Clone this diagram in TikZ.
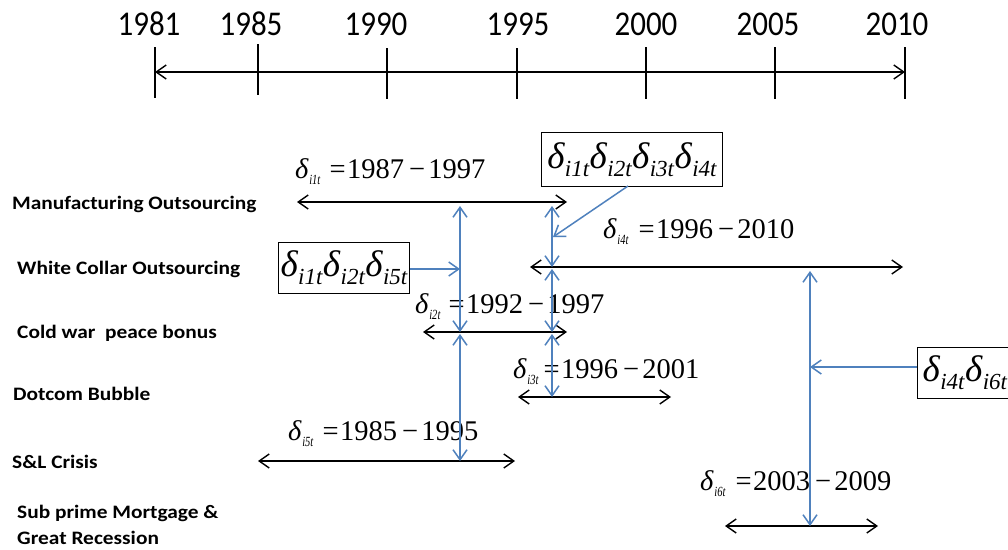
\documentclass[tikz,border=0pt]{standalone}
\usepackage{fontspec}
\setmainfont{Liberation Serif}
\newfontfamily\carl{Carlito}
\usetikzlibrary{arrows.meta}
\definecolor{offblue}{RGB}{79,129,189}
\newcommand\eqd[1]{\textit{δ}\kern0.5pt\raisebox{-6pt}{\fontsize{14}{14}\selectfont\scalebox{0.75}[1]{\textit{#1}}}}
\newcommand\eqline[4]{\eqd{#1}\hspace{#2}=\hspace{1.5pt}#3\hspace{5pt}−\hspace{3pt}#4}
\newcommand\bxd[1]{\textit{δ}\raisebox{-8pt}{\fontsize{23}{23}\selectfont\textit{#1}}}
\newcommand\rl[1]{\scalebox{1.125}[1]{#1}}
\tikzset{
  mytip/.tip={Straight Barb[length=10pt,width=14pt]},
  blk/.style={draw=black,line width=1.4pt,mytip-mytip},
  blu/.style={draw=offblue,line width=1.5pt},
  year/.style={font=\carl\fontsize{31}{31}\selectfont,inner sep=0pt,anchor=base},
  rowlbl/.style={font=\carl\bfseries\fontsize{19}{26}\selectfont,anchor=base west,inner sep=0pt,align=left},
  eqlbl/.style={font=\fontsize{28.5}{28.5}\selectfont,anchor=base west,inner sep=0pt},
  dbox/.style={draw=black,line width=1.3pt,font=\fontsize{37}{37}\selectfont,inner sep=0pt,anchor=north west},
}
\begin{document}
\begin{tikzpicture}[x=1pt,y=-1pt]
\clip (0,0) rectangle (1008,549);
\fill[white] (0,0) rectangle (1008,549);
% timeline
\foreach \x/\a/\b/\lx/\yr in {155/47/98/149/1981,258/44/95/251/1985,387/48/99/376/1990,517/48/99/518/1995,646/47/99/646/2000,775/47/99/768/2005,905/47/99/897/2010}{
  \coordinate (t\yr a) at (\x,\a);
  \coordinate (t\yr b) at (\x,\b);
  \draw[line width=1.4pt] (t\yr a) -- (t\yr b);
  \node[year] (y\yr) at (\lx,35) {\scalebox{1}[1.12]{\yr}};
}
\coordinate (tl) at (155,72);
\coordinate (tr) at (905,72);
\draw[blk] (tl) -- (tr);
% row labels
\node[rowlbl] (r1) at (12,209) {\rl{Manufacturing Outsourcing}};
\node[rowlbl] (r2) at (17,274) {\rl{White Collar Outsourcing}};
\node[rowlbl] (r3) at (17,338) {\rl{Cold war\ \ peace bonus}};
\node[rowlbl] (r4) at (13,400) {\rl{Dotcom Bubble}};
\node[rowlbl] (r5) at (12,468) {\rl{S\&L Crisis}};
\node[rowlbl,anchor=west] (r6) at (17,525) {\rl{Sub prime Mortgage \&}\\\rl{Great Recession}};
% period arrows
\coordinate (m1) at (297,202); \coordinate (m2) at (567,202);
\coordinate (w1) at (530,267); \coordinate (w2) at (903,267);
\coordinate (c1) at (423,332); \coordinate (c2) at (567,332);
\coordinate (d1) at (518,397); \coordinate (d2) at (671,397);
\coordinate (s1) at (258,461); \coordinate (s2) at (515,461);
\coordinate (p1) at (725,526); \coordinate (p2) at (878,526);
\draw[blk] (m1) -- (m2);
\draw[blk] (w1) -- (w2);
\draw[blk] (c1) -- (c2);
\draw[blk] (d1) -- (d2);
\draw[blk] (s1) -- (s2);
\draw[blk] (p1) -- (p2);
% equation labels
\node[eqlbl] (e1) at (295,178) {\eqline{i1t}{9pt}{1987}{1997}};
\node[eqlbl] (e4) at (603,238) {\eqline{i4t}{10pt}{1996}{2010}};
\node[eqlbl] (e2) at (415,313) {\eqline{i2t}{8pt}{1992}{1997}};
\node[eqlbl] (e3) at (513,378) {\eqline{i3t}{5pt}{1996}{2001}};
\node[eqlbl] (e5) at (288,440) {\eqline{i5t}{9pt}{1985}{1995}};
\node[eqlbl] (e6) at (700,490) {\eqline{i6t}{10pt}{2003}{2009}};
% boxes
\node[dbox,minimum width=131pt,minimum height=51pt] (bx1) at (278,242) {\bxd{i1t}\bxd{i2t}\bxd{i5t}};
\node[dbox,minimum width=181pt,minimum height=54pt] (bx2) at (541,132) {\bxd{i1t}\bxd{i2t}\bxd{i3t}\bxd{i4t}};
\node[dbox,minimum height=51pt,inner xsep=5pt] (bx3) at (917,347) {\bxd{i4t}\bxd{i6t}};
% blue connectors
\coordinate (va1) at (460,206); \coordinate (va2) at (460,332);
\coordinate (va3) at (460,334); \coordinate (va4) at (460,461);
\coordinate (vb1) at (552,206); \coordinate (vb2) at (552,267);
\coordinate (vb3) at (552,269); \coordinate (vb4) at (552,332);
\coordinate (vb5) at (552,334); \coordinate (vb6) at (552,397);
\coordinate (vc1) at (810,271); \coordinate (vc2) at (810,526);
\coordinate (h1) at (460,269);
\coordinate (h2) at (553,237);
\coordinate (h3) at (810,367);
\coordinate (bx2s) at (628,186);
\draw[blu,mytip-mytip] (va1) -- (va2);
\draw[blu,mytip-mytip] (va3) -- (va4);
\draw[blu,mytip-mytip] (vb1) -- (vb2);
\draw[blu,mytip-mytip] (vb3) -- (vb4);
\draw[blu,mytip-mytip] (vb5) -- (vb6);
\draw[blu,mytip-mytip] (vc1) -- (vc2);
\draw[blu,-mytip] (bx1.east |- h1) -- (h1);
\draw[blu,-mytip] (bx2s) -- (h2);
\draw[blu,-mytip] (bx3.west |- h3) -- (h3);
\end{tikzpicture}
\end{document}
